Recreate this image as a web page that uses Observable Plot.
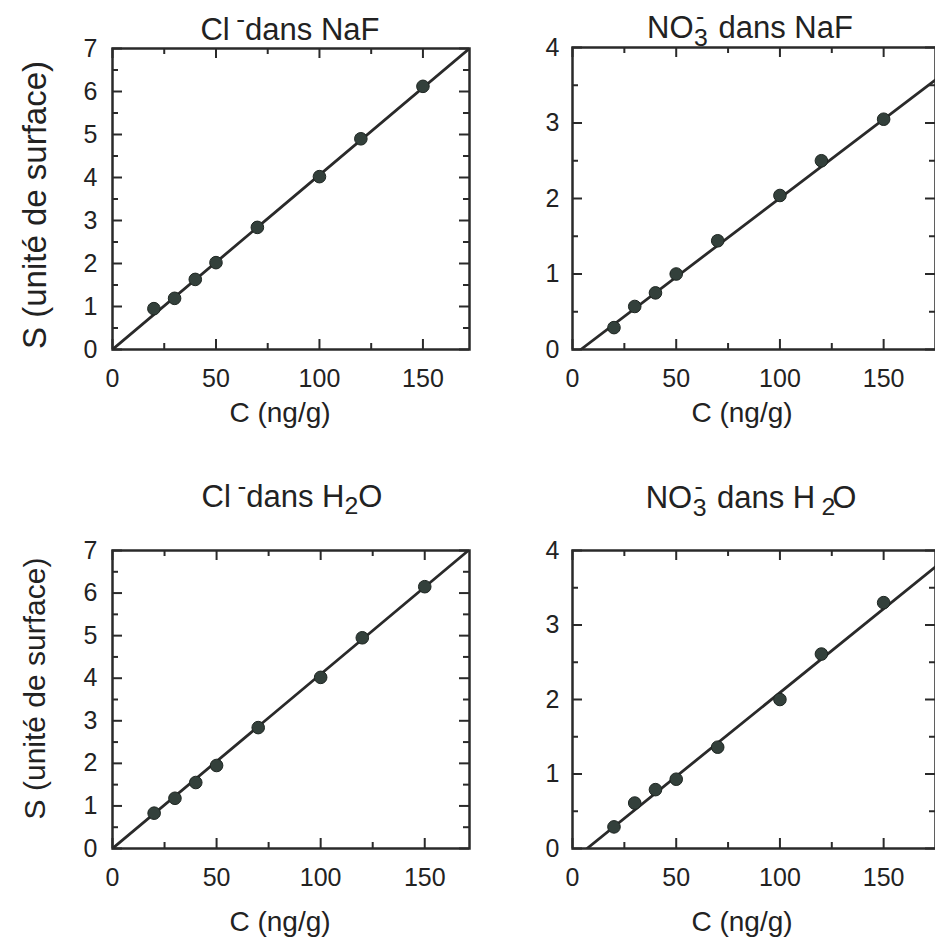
<!DOCTYPE html>
<html><head><meta charset="utf-8">
<script src="https://cdn.jsdelivr.net/npm/d3@7"></script>
<script src="https://cdn.jsdelivr.net/npm/@observablehq/plot@0.6"></script>
<style>
body{margin:0;background:#fff;}
#root{position:relative;width:935px;height:951px;overflow:hidden;font-family:"Liberation Sans",Arial,Helvetica,sans-serif;color:#222;background:#fff;}
.panel{position:absolute;}
.title{position:absolute;font-size:31px;line-height:31px;white-space:nowrap;transform:translateX(-50%);}
.supm{position:relative;top:-0.45em;margin-left:0.25em;font-size:0.85em;}
.stk{position:relative;font-size:0.8em;top:0.32em;margin-left:0.02em;margin-right:0.08em;}
.stkm{position:absolute;left:0.08em;top:-0.95em;}
.sub{position:relative;font-size:0.8em;top:0.3em;}
</style></head><body><div id="root"></div>
<script>
// Concentrations (ng/g)
const conc = [20, 30, 40, 50, 70, 100, 120, 150];
// Peak areas S (unité de surface)
const sClNaF  = [0.95, 1.19, 1.63, 2.02, 2.84, 4.02, 4.90, 6.12];
const sNO3NaF = [0.29, 0.57, 0.75, 1.00, 1.44, 2.04, 2.50, 3.05];
const sClH2O  = [0.83, 1.18, 1.55, 1.95, 2.84, 4.02, 4.95, 6.15];
const sNO3H2O = [0.29, 0.61, 0.79, 0.93, 1.36, 2.00, 2.61, 3.30];
// Calibration lines: end points
const fitClNaFX  = [0, 172.5], fitClNaFY  = [0, 7];
const fitNO3NaFX = [4, 175],   fitNO3NaFY = [0, 3.57];
const fitClH2OX  = [0, 171],   fitClH2OY  = [0, 7];
const fitNO3H2OX = [7, 175],   fitNO3H2OY = [0, 3.78];
// Ticks
const xMajorTicks = [0, 50, 100, 150];
const xMinorTicks = [25, 75, 125];
const yMajorCl  = [0, 1, 2, 3, 4, 5, 6, 7];
const yMinorCl  = [0.5, 1.5, 2.5, 3.5, 4.5, 5.5, 6.5];
const yMajorNO3 = [0, 1, 2, 3, 4];
const yMinorNO3 = [0.5, 1.5, 2.5, 3.5];
const xLabel = "C (ng/g)";
const yLabel = "S (unité de surface)";

const ink = "#2a2a2a";
const FONT = '"Liberation Sans", Arial, Helvetica, sans-serif';

function panel(o) {
  const iw = o.width - o.ml - o.mr, ih = o.height - o.mt - o.mb;
  const pts = conc.map((c, i) => ({c, s: o.s[i]}));
  const fit = o.fitX.map((x, i) => ({x, y: o.fitY[i]}));
  const MJ = 10, MN = 6;
  const marks = [
    Plot.tickX(xMajorTicks, {x: d => d, insetTop: ih - MJ, stroke: ink, strokeWidth: 2}),
    Plot.tickX(xMajorTicks, {x: d => d, insetBottom: ih - MJ, stroke: ink, strokeWidth: 2}),
    Plot.tickX(xMinorTicks, {x: d => d, insetTop: ih - MN, stroke: ink, strokeWidth: 2}),
    Plot.tickX(xMinorTicks, {x: d => d, insetBottom: ih - MN, stroke: ink, strokeWidth: 2}),
    Plot.tickY(o.yMajor, {y: d => d, insetRight: iw - MJ, stroke: ink, strokeWidth: 2}),
    Plot.tickY(o.yMajor, {y: d => d, insetLeft: iw - MJ, stroke: ink, strokeWidth: 2}),
    Plot.tickY(o.yMinor, {y: d => d, insetRight: iw - MN, stroke: ink, strokeWidth: 2}),
    Plot.tickY(o.yMinor, {y: d => d, insetLeft: iw - MN, stroke: ink, strokeWidth: 2}),
    Plot.axisX(xMajorTicks, {anchor: "bottom", tickSize: 0, tickPadding: 20, fontSize: 25, label: null, tickFormat: d => String(d)}),
    Plot.axisY(o.yMajor, {anchor: "left", tickSize: 0, tickPadding: o.yPad, fontSize: 25, label: null, tickFormat: d => String(d)}),
    Plot.line(fit, {x: "x", y: "y", stroke: ink, strokeWidth: 2.8, clip: true}),
    Plot.dot(pts, {x: "c", y: "s", r: 6.3, fill: "#33403b", stroke: "#1e2622", strokeWidth: 1}),
    Plot.frame({stroke: ink, strokeWidth: 2.5}),
    Plot.text([xLabel], {text: d => d, frameAnchor: "bottom", textAnchor: "middle", dy: o.xLabDy, dx: o.xLabDx, fontSize: 28, fill: "#222"})
  ];
  if (o.showY) {
    marks.push(Plot.text([yLabel], {text: d => d, frameAnchor: "left", textAnchor: "middle", rotate: -90, dx: -77, dy: o.yLabDy, fontSize: o.yLabSize, fill: "#222"}));
  }
  const svg = Plot.plot({
    width: o.width, height: o.height,
    marginLeft: o.ml, marginRight: o.mr, marginTop: o.mt, marginBottom: o.mb,
    x: {domain: [0, o.xMax]},
    y: {domain: [0, o.yMax]},
    style: {fontFamily: FONT, fontSize: "25px", color: "#222", background: "transparent", overflow: "visible"},
    marks
  });
  svg.classList.add("panel");
  svg.style.left = o.left + "px";
  svg.style.top = o.top + "px";
  return svg;
}

const root = document.getElementById("root");
root.appendChild(panel({left: 0, top: 0, width: 480, height: 440, ml: 112, mr: 11, mt: 48, mb: 91,
  xMax: 172.5, yMax: 7, yMajor: yMajorCl, yMinor: yMinorCl, s: sClNaF, fitX: fitClNaFX, fitY: fitClNaFY,
  yPad: 15, xLabDy: 72, xLabDx: -11, showY: true, yLabDy: 6, yLabSize: 33}));
root.appendChild(panel({left: 480, top: 0, width: 455, height: 440, ml: 92, mr: 0, mt: 47, mb: 91,
  xMax: 175, yMax: 4, yMajor: yMajorNO3, yMinor: yMinorNO3, s: sNO3NaF, fitX: fitNO3NaFX, fitY: fitNO3NaFY,
  yPad: 13, xLabDy: 72, xLabDx: -12, showY: false}));
root.appendChild(panel({left: 0, top: 470, width: 480, height: 481, ml: 112, mr: 11, mt: 80, mb: 103,
  xMax: 171.5, yMax: 7, yMajor: yMajorCl, yMinor: yMinorCl, s: sClH2O, fitX: fitClH2OX, fitY: fitClH2OY,
  yPad: 15, xLabDy: 82, xLabDx: -11, showY: true, yLabDy: -11, yLabSize: 30}));
root.appendChild(panel({left: 480, top: 470, width: 455, height: 481, ml: 92, mr: 0, mt: 80, mb: 103,
  xMax: 175, yMax: 4, yMajor: yMajorNO3, yMinor: yMinorNO3, s: sNO3H2O, fitX: fitNO3H2OX, fitY: fitNO3H2OY,
  yPad: 13, xLabDy: 82, xLabDx: -12, showY: false}));

const titles = [
  {x: 290, y: 14, html: 'Cl<span class="supm">-</span>dans NaF'},
  {x: 750, y: 12, html: 'NO<span class="stk">3<span class="stkm">-</span></span> dans NaF'},
  {x: 292, y: 481, html: 'Cl<span class="supm">-</span>dans H<span class="sub">2</span>O'},
  {x: 751, y: 482, html: 'NO<span class="stk">3<span class="stkm">-</span></span> dans H <span class="sub" style="margin-left:-0.1em;margin-right:-0.12em">2</span>O'}
];
for (const t of titles) {
  const d = document.createElement("div");
  d.className = "title";
  d.style.left = t.x + "px";
  d.style.top = t.y + "px";
  d.innerHTML = t.html;
  root.appendChild(d);
}
</script>
</body></html>
